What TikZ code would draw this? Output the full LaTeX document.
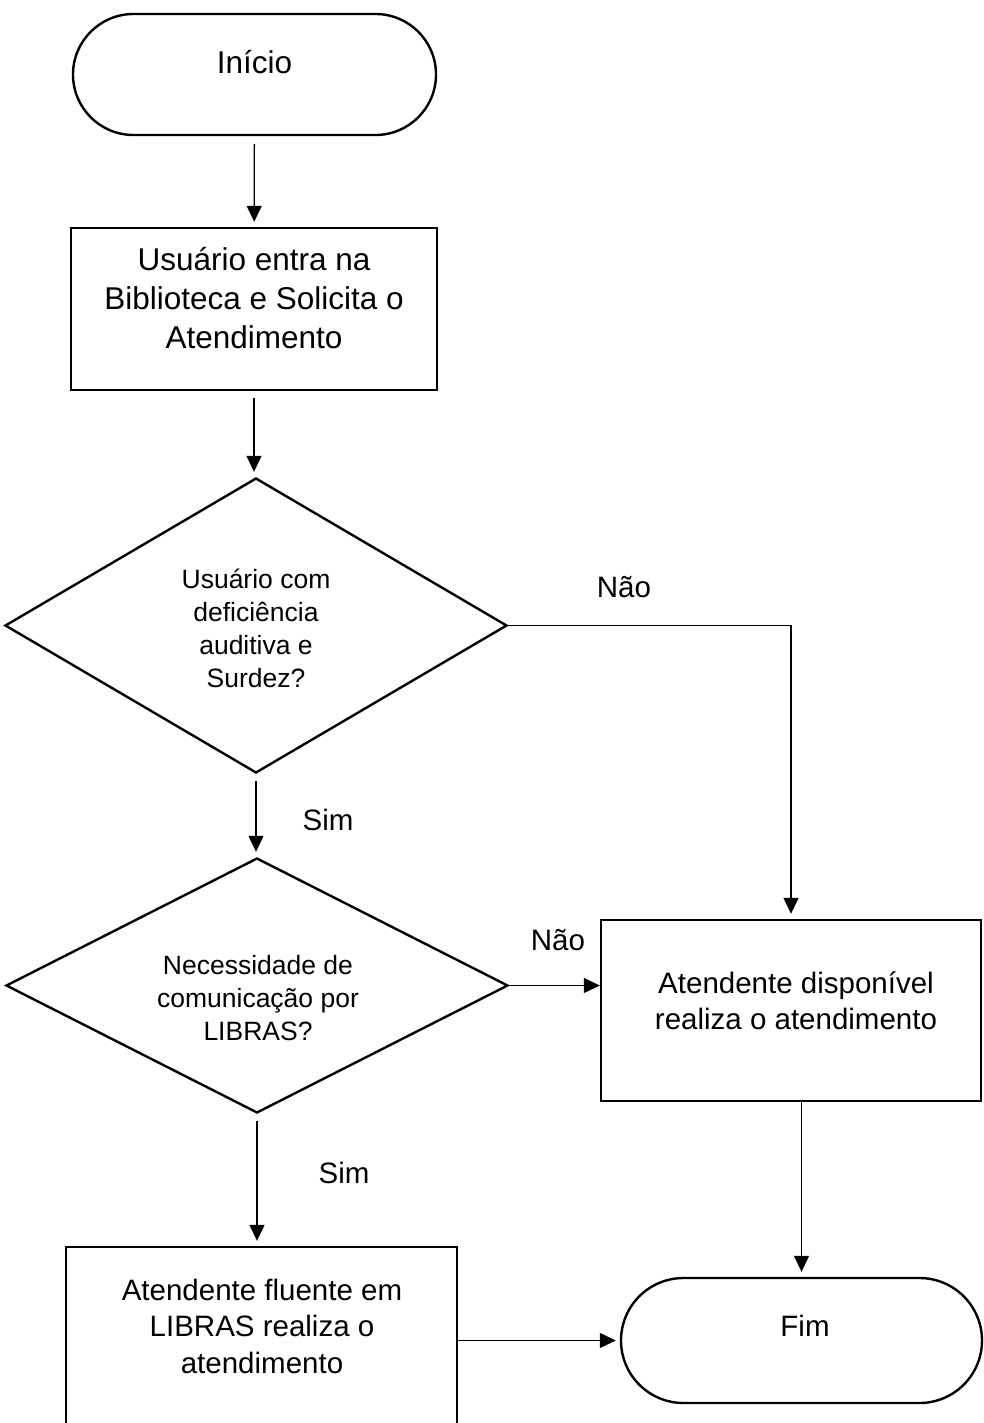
\documentclass[tikz,border=0pt]{standalone}
\usepackage{fontspec}
\setmainfont{Liberation Sans}
\usetikzlibrary{arrows.meta}
\usetikzlibrary{shapes.geometric, shapes.misc}

\begin{document}
\begin{tikzpicture}[x=1pt,y=-1pt,>={Triangle[length=16pt,width=15pt]},line join=miter,
  terminal/.style={rounded rectangle,draw,line width=2.4pt,inner sep=0pt},
  stepbox/.style={rectangle,draw,line width=2.4pt,inner sep=0pt},
  decision/.style={diamond,draw,line width=2.4pt,inner sep=0pt},
  toptxt/.style={align=center,font=\fontsize{31.5}{39}\selectfont,inner sep=0pt},
  bigtxt/.style={align=center,font=\fontsize{29.5}{36.5}\selectfont,inner sep=0pt},
  smalltxt/.style={align=center,font=\fontsize{26.5}{33}\selectfont,inner sep=0pt},
  flow/.style={->,line width=1.3pt,shorten >=5pt}]
\useasboundingbox (0,0) rectangle (983,1423);
\clip (0,0) rectangle (983,1423);
%%
\node (inicio) at (254.5,74.5) [terminal,minimum width=363pt,minimum height=121pt] {};
  \node (inicio_txt) at (254.5,62) [toptxt] {Início};
  \node (usuario) at (254,309) [stepbox,minimum width=366pt,minimum height=162pt] {};
  \node (usuario_txt) at (254,298) [toptxt] {Usuário entra na\\Biblioteca e Solicita o\\Atendimento};
  \node (dec1) at (256,625.5) [decision,minimum width=502pt,minimum height=295pt] {};
  \node (dec1_txt) at (256,628) [smalltxt] {Usuário com\\deficiência\\auditiva e\\Surdez?};
  \node (dec2) at (257,985.5) [decision,minimum width=502pt,minimum height=255pt] {};
  \node (dec2_txt) at (258,998) [smalltxt] {Necessidade de\\comunicação por\\LIBRAS?};
  \node (atend) at (791,1010.5) [stepbox,minimum width=380pt,minimum height=181pt] {};
  \node (atend_txt) at (796,1001) [bigtxt] {Atendente disponível\\realiza o atendimento};
  \node (fluente) at (261.5,1348.5) [stepbox,minimum width=391pt,minimum height=203pt] {};
  \node (fluente_txt) at (262,1326) [bigtxt] {Atendente fluente em\\LIBRAS realiza o\\atendimento};
  \node (fim) at (801.5,1340.5) [terminal,minimum width=361pt,minimum height=125pt] {};
  \node (fim_txt) at (805,1326) [bigtxt] {Fim};
%
  \node (nao1) at (624,587) [bigtxt] {Não};
  \node (sim1) at (328,820) [bigtxt] {Sim};
  \node (nao2) at (558,940) [bigtxt] {Não};
  \node (sim2) at (344,1173) [bigtxt] {Sim};
%
  \draw [flow,shorten <=8pt] (inicio) -- (usuario);
  \draw [flow,shorten <=7pt] (usuario.south) -- (usuario.south |- dec1.north);
  \draw [flow] (dec1.east) -| (atend.north);
  \draw [flow,shorten <=7pt] (dec1) -- (dec1 |- dec2.north);
  \draw [flow,shorten >=0pt] (dec2.east) -- (dec2.east -| atend.west);
  \draw [flow,shorten <=7pt] (dec2.south) -- (dec2.south |- fluente.north);
  \draw [flow] (atend.south -| fim.north) -- (fim.north);
  \draw [flow,shorten >=4pt] (fim.west -| fluente.east) -- (fim.west);
%
\end{tikzpicture}
\end{document}
